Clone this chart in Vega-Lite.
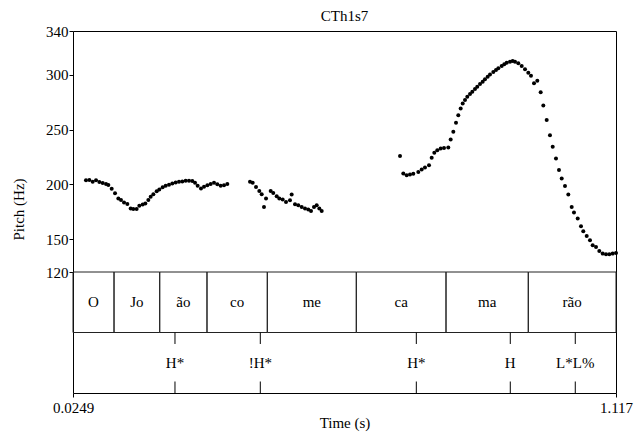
{
  "$schema": "https://vega.github.io/schema/vega-lite/v6.json",
  "width": 543,
  "height": 362,
  "autosize": {"type": "none"},
  "padding": {"left": 73, "top": 31, "right": 26, "bottom": 44},
  "background": "white",
  "title": {"text": "CTh1s7", "font": "Liberation Serif", "fontSize": 15, "fontWeight": "normal", "color": "black", "anchor": "middle", "offset": 0},
  "config": {
    "view": {"stroke": "black", "strokeWidth": 1},
    "axis": {
      "labelFont": "Liberation Serif", "titleFont": "Liberation Serif",
      "labelFontSize": 15, "titleFontSize": 15, "titleFontWeight": "normal",
      "labelColor": "black", "titleColor": "black", "tickColor": "black", "domainColor": "black",
      "grid": false, "tickSize": 4
    }
  },
  "datasets": {
    "pitch": [
      {"t":0.0510,"hz":203.7},{"t":0.0578,"hz":204.0},{"t":0.0645,"hz":202.4},{"t":0.0712,"hz":203.7},{"t":0.0779,"hz":202.1},
      {"t":0.0846,"hz":201.2},{"t":0.0913,"hz":200.3},{"t":0.0960,"hz":199.4},{"t":0.1027,"hz":196.0},{"t":0.1094,"hz":191.8},
      {"t":0.1161,"hz":187.2},{"t":0.1214,"hz":185.7},{"t":0.1275,"hz":183.5},{"t":0.1342,"hz":182.0},{"t":0.1409,"hz":178.0},
      {"t":0.1462,"hz":177.4},{"t":0.1529,"hz":177.4},{"t":0.1583,"hz":180.5},{"t":0.1650,"hz":181.7},{"t":0.1704,"hz":182.6},
      {"t":0.1764,"hz":185.7},{"t":0.1811,"hz":188.7},{"t":0.1865,"hz":190.9},{"t":0.1932,"hz":193.6},{"t":0.1985,"hz":195.4},
      {"t":0.2052,"hz":197.3},{"t":0.2113,"hz":198.8},{"t":0.2180,"hz":199.7},{"t":0.2247,"hz":200.9},{"t":0.2314,"hz":201.8},
      {"t":0.2381,"hz":202.4},{"t":0.2448,"hz":202.7},{"t":0.2515,"hz":203.4},{"t":0.2582,"hz":203.4},{"t":0.2649,"hz":203.0},
      {"t":0.2703,"hz":201.5},{"t":0.2756,"hz":198.8},{"t":0.2823,"hz":196.3},{"t":0.2884,"hz":197.9},{"t":0.2951,"hz":199.1},
      {"t":0.3018,"hz":200.3},{"t":0.3085,"hz":201.5},{"t":0.3152,"hz":200.0},{"t":0.3219,"hz":198.8},{"t":0.3286,"hz":199.1},
      {"t":0.3353,"hz":200.3},
      {"t":0.3809,"hz":202.3},{"t":0.3863,"hz":201.4},{"t":0.3930,"hz":197.7},{"t":0.3996,"hz":194.0},{"t":0.4044,"hz":191.0},
      {"t":0.4090,"hz":179.4},{"t":0.4131,"hz":187.0},{"t":0.4225,"hz":194.0},{"t":0.4277,"hz":192.2},{"t":0.4346,"hz":189.2},
      {"t":0.4398,"hz":187.0},{"t":0.4466,"hz":186.1},{"t":0.4533,"hz":184.0},{"t":0.4613,"hz":185.5},{"t":0.4647,"hz":190.7},
      {"t":0.4714,"hz":181.9},{"t":0.4780,"hz":181.0},{"t":0.4849,"hz":179.4},{"t":0.4915,"hz":177.9},{"t":0.4981,"hz":177.0},
      {"t":0.5036,"hz":175.7},{"t":0.5096,"hz":179.4},{"t":0.5150,"hz":181.0},{"t":0.5203,"hz":177.9},{"t":0.5251,"hz":175.7},
      {"t":0.6826,"hz":226.0},
      {"t":0.6892,"hz":209.9},{"t":0.6960,"hz":208.4},{"t":0.7027,"hz":209.0},{"t":0.7093,"hz":209.6},{"t":0.7194,"hz":211.4},
      {"t":0.7262,"hz":213.6},{"t":0.7328,"hz":215.4},{"t":0.7409,"hz":217.5},{"t":0.7463,"hz":224.2},{"t":0.7516,"hz":228.8},
      {"t":0.7576,"hz":231.2},{"t":0.7644,"hz":232.8},{"t":0.7711,"hz":233.3},{"t":0.7797,"hz":233.7},{"t":0.7845,"hz":241.0},
      {"t":0.7898,"hz":248.0},{"t":0.7952,"hz":256.2},{"t":0.7998,"hz":263.2},{"t":0.8046,"hz":269.3},{"t":0.8087,"hz":273.9},
      {"t":0.8133,"hz":276.9},{"t":0.8179,"hz":280.0},{"t":0.8234,"hz":282.4},{"t":0.8280,"hz":284.5},{"t":0.8334,"hz":287.0},
      {"t":0.8380,"hz":289.1},{"t":0.8435,"hz":291.6},{"t":0.8489,"hz":293.7},{"t":0.8535,"hz":295.9},{"t":0.8589,"hz":298.2},
      {"t":0.8636,"hz":300.4},{"t":0.8702,"hz":302.5},{"t":0.8756,"hz":304.4},{"t":0.8803,"hz":305.9},{"t":0.8871,"hz":308.0},
      {"t":0.8923,"hz":309.6},{"t":0.8972,"hz":311.0},{"t":0.9038,"hz":311.9},{"t":0.9092,"hz":312.6},{"t":0.9139,"hz":311.9},
      {"t":0.9205,"hz":310.5},{"t":0.9273,"hz":308.0},{"t":0.9340,"hz":305.0},{"t":0.9406,"hz":301.9},{"t":0.9460,"hz":299.1},
      {"t":0.9521,"hz":292.2},{"t":0.9587,"hz":294.6},{"t":0.9655,"hz":284.2},{"t":0.9708,"hz":272.1},{"t":0.9776,"hz":258.7},
      {"t":0.9842,"hz":244.9},{"t":0.9897,"hz":234.3},{"t":0.9963,"hz":223.6},{"t":1.0023,"hz":213.0},{"t":1.0078,"hz":205.4},
      {"t":1.0144,"hz":198.6},{"t":1.0211,"hz":190.7},{"t":1.0279,"hz":179.4},{"t":1.0325,"hz":174.3},{"t":1.0400,"hz":168.8},
      {"t":1.0466,"hz":161.8},{"t":1.0512,"hz":157.2},{"t":1.0581,"hz":152.9},{"t":1.0647,"hz":149.0},{"t":1.0701,"hz":144.4},
      {"t":1.0768,"hz":142.9},{"t":1.0834,"hz":139.2},{"t":1.0902,"hz":136.8},{"t":1.0969,"hz":136.2},{"t":1.1035,"hz":136.2},
      {"t":1.1103,"hz":136.8},{"t":1.1170,"hz":137.4}
    ],
    "syll": [
      {"label":"O","t":0.0249,"t2":0.1074},
      {"label":"Jo","t":0.1074,"t2":0.1993},
      {"label":"ão","t":0.1993,"t2":0.2944},
      {"label":"co","t":0.2944,"t2":0.4157},
      {"label":"me","t":0.4157,"t2":0.5947},
      {"label":"ca","t":0.5947,"t2":0.7751},
      {"label":"ma","t":0.7751,"t2":0.9406},
      {"label":"rão","t":0.9406,"t2":1.117}
    ],
    "tones": [
      {"tone":"H*","t":0.2300},
      {"tone":"!H*","t":0.4016},
      {"tone":"H*","t":0.7154},
      {"tone":"H","t":0.9044},
      {"tone":"L*L%","t":1.0351}
    ]
  },
  "layer": [
    {
      "data": {"name": "pitch"},
      "mark": {"type": "circle", "size": 16, "color": "black", "opacity": 1},
      "encoding": {
        "x": {"field": "t", "type": "quantitative", "title": "Time (s)",
          "scale": {"domain": [0.0249, 1.117], "nice": false, "zero": false},
          "axis": {"values": [0.0249, 1.117], "format": ".4~r", "labelFlush": false, "labelPadding": 3, "domain": false, "titleY": 34, "titleBaseline": "alphabetic"}},
        "y": {"field": "hz", "type": "quantitative", "title": "Pitch (Hz)",
          "scale": {"domain": [120, 340], "range": [241, 0], "nice": false, "zero": false},
          "axis": {"values": [120, 150, 200, 250, 300, 340], "labelPadding": 1, "domain": false, "titleX": -47, "titleY": 178, "titleBaseline": "bottom"}}
      }
    },
    {
      "layer": [
        {
          "data": {"name": "syll"},
          "mark": {"type": "rect", "fill": "transparent", "stroke": "#222222", "strokeWidth": 1},
          "encoding": {
            "x": {"field": "t", "type": "quantitative", "title": "Time (s)", "scale": {"domain": [0.0249, 1.117], "nice": false, "zero": false}},
            "x2": {"field": "t2"},
            "y": {"datum": 2, "type": "quantitative", "scale": {"domain": [0, 2], "range": [362, 241], "nice": false, "zero": false}, "axis": null},
            "y2": {"datum": 1}
          }
        },
        {
          "data": {"name": "syll"},
          "transform": [{"fold": ["t", "t2"], "as": ["k", "tt"]}],
          "mark": {"type": "text", "font": "Liberation Serif", "fontSize": 15, "baseline": "middle", "align": "center", "color": "black"},
          "encoding": {
            "x": {"aggregate": "mean", "field": "tt", "type": "quantitative", "title": "Time (s)", "scale": {"domain": [0.0249, 1.117], "nice": false, "zero": false}},
            "y": {"datum": 1.5, "type": "quantitative", "scale": {"domain": [0, 2], "range": [362, 241], "nice": false, "zero": false}, "axis": null},
            "text": {"field": "label"}
          }
        },
        {
          "data": {"name": "tones"},
          "mark": {"type": "rule", "color": "black", "strokeWidth": 1},
          "encoding": {
            "x": {"field": "t", "type": "quantitative", "title": "Time (s)", "scale": {"domain": [0.0249, 1.117], "nice": false, "zero": false}},
            "y": {"datum": 1, "type": "quantitative", "scale": {"domain": [0, 2], "range": [362, 241], "nice": false, "zero": false}, "axis": null},
            "y2": {"datum": 0.81}
          }
        },
        {
          "data": {"name": "tones"},
          "mark": {"type": "rule", "color": "black", "strokeWidth": 1},
          "encoding": {
            "x": {"field": "t", "type": "quantitative", "title": "Time (s)", "scale": {"domain": [0.0249, 1.117], "nice": false, "zero": false}},
            "y": {"datum": 0.19, "type": "quantitative", "scale": {"domain": [0, 2], "range": [362, 241], "nice": false, "zero": false}, "axis": null},
            "y2": {"datum": 0}
          }
        },
        {
          "data": {"name": "tones"},
          "mark": {"type": "text", "font": "Liberation Serif", "fontSize": 15, "baseline": "middle", "align": "center", "color": "black"},
          "encoding": {
            "x": {"field": "t", "type": "quantitative", "title": "Time (s)", "scale": {"domain": [0.0249, 1.117], "nice": false, "zero": false}},
            "y": {"datum": 0.5, "type": "quantitative", "scale": {"domain": [0, 2], "range": [362, 241], "nice": false, "zero": false}, "axis": null},
            "text": {"field": "tone"}
          }
        }
      ]
    }
  ],
  "resolve": {"scale": {"y": "independent"}}
}
